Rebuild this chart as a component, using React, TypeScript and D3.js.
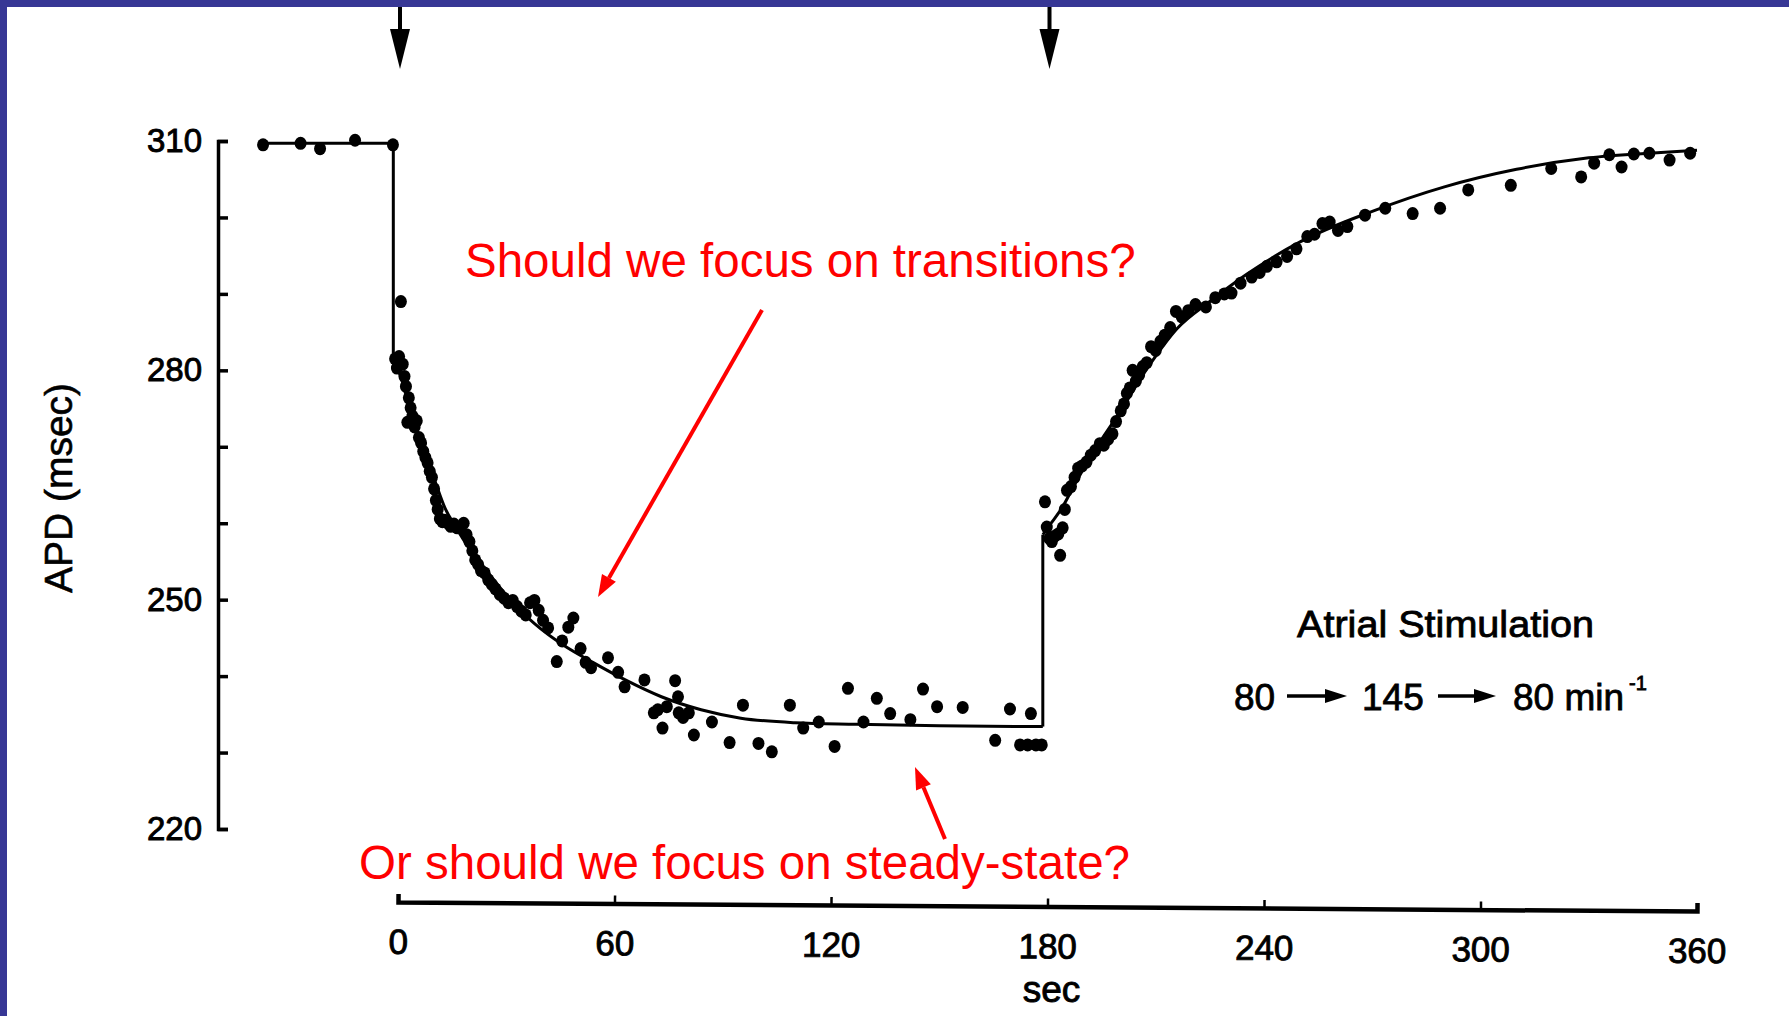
import * as d3 from 'd3';
import React, { useRef, useEffect } from 'react';

const W = 1789;
const H = 1016;

// stimulation switch times (sec), marked by arrows on top
const stimTimes = [0, 180];

const xTicks = [0, 60, 120, 180, 240, 300, 360];
const yTicks = [220, 230, 240, 250, 260, 270, 280, 290, 300, 310];
const yLabeled = [220, 250, 280, 310];

// APD at 80/min before the switch
const controlT = [-37.4, -27.0, -21.6, -11.9, -1.4];
const controlV = [309.5, 309.7, 309.0, 310.1, 309.5];

// APD at 145/min
const fastT = [
  -0.8, -0.3, 0.3, 0.8, 1.3, 1.8, 2.2, 2.6, 3.0, 3.5, 4.0, 4.6, 5.2, 5.8, 6.4, 7.0, 7.6, 8.2, 8.8, 9.4,
  10.0, 10.5, 11.0, 11.6, 12.3, 13.0, 13.8, 14.6, 15.5, 16.4, 17.3, 18.2, 19.0, 19.8, 20.6, 21.4, 22.2,
  23.0, 24.0, 25.0, 26.0, 27.0, 28.2, 29.4, 30.6, 31.8, 33.0, 34.2, 35.4, 36.6, 37.8, 39.0, 40.2, 41.6,
  44.0, 45.5, 47.2, 48.6, 50.6, 52.0, 53.5, 58.2, 61.0, 62.8, 68.3, 70.9, 72.0, 73.3, 74.5, 76.8, 77.6,
  77.8, 79.0, 80.6, 82.0, 87.0, 91.9, 95.6, 99.9, 103.6, 108.6, 112.3, 116.6, 121.0, 124.7, 129.0, 132.7,
  136.4, 142.0, 145.5, 149.4, 156.5, 165.5, 169.6, 172.4, 174.5, 175.4, 176.8, 178.4,
];
const fastV = [
  281.5, 280.3, 281.8, 289.0, 280.8, 279.2, 277.9, 273.2, 276.4, 275.1, 274.0, 272.6, 273.4, 271.2, 270.5,
  269.4, 268.6, 267.9, 266.8, 266.0, 264.5, 263.0, 261.8, 260.6, 260.2, 260.4, 260.0, 259.6, 259.9, 259.4,
  259.5, 260.0, 258.5, 257.6, 256.4, 255.2, 254.6, 253.8, 253.5, 252.6, 252.0, 251.4, 250.7, 250.2, 249.6,
  249.9, 249.1, 248.5, 248.0, 249.6, 249.9, 248.6, 247.3, 246.3, 241.9, 244.6, 246.4, 247.6, 243.6, 241.8,
  241.1, 242.4, 240.5, 238.6, 239.5, 235.2, 235.6, 233.2, 236.0, 239.4, 237.3, 235.2, 234.6, 235.2, 232.3,
  234.0, 231.3, 236.2, 231.2, 230.1, 236.2, 233.2, 234.0, 230.8, 238.4, 234.0, 237.1, 235.1, 234.3, 238.3,
  236.0, 235.9, 231.6, 235.7, 231.0, 231.0, 235.1, 231.0, 231.0,
];

// APD after returning to 80/min
const recoveryT = [
  179.3, 179.8, 180.5, 181.2, 182.0, 183.0, 183.5, 184.2, 184.8, 185.4, 186.5, 187.5, 188.5, 189.6, 190.8,
  192.0, 193.2, 194.5, 195.6, 196.8, 198.0, 199.0, 200.3, 201.2, 202.0, 202.8, 203.6, 204.5, 205.4, 206.4,
  207.5, 208.7, 210.0, 211.3, 212.5, 214.0, 215.6, 217.2, 219.0, 221.0, 223.9, 226.5, 229.0, 231.0, 233.5,
  236.6, 238.8, 240.8, 243.5, 246.4, 249.0, 252.0, 254.0, 256.2, 258.2, 260.5, 263.1, 268.0, 273.6, 281.2,
  288.8, 296.6, 308.4, 319.6, 327.9, 331.5, 335.7, 339.1, 342.5, 346.8, 352.4, 358.1,
];
const recoveryV = [
  262.8, 259.5, 258.0, 257.6, 258.3, 258.6, 255.8, 259.4, 261.8, 264.3, 264.8, 266.0, 267.2, 267.5, 268.0,
  268.9, 269.5, 270.4, 270.2, 271.0, 271.7, 273.3, 274.7, 275.6, 277.0, 277.7, 280.0, 278.6, 279.4, 280.5,
  281.0, 283.1, 282.6, 283.8, 284.6, 285.6, 287.7, 287.0, 287.8, 288.6, 288.3, 289.5, 290.0, 290.1, 291.4,
  292.2, 292.8, 293.6, 294.2, 294.9, 295.9, 297.5, 297.8, 299.2, 299.4, 298.3, 298.8, 300.3, 301.2, 300.5,
  301.2, 303.6, 304.2, 306.4, 305.3, 307.1, 308.2, 306.6, 308.3, 308.4, 307.5, 308.4,
];

// fitted curve
const fitStepT = [-37.4, -1.3, -1.3];
const fitStepV = [309.7, 309.7, 281.3];
const fitDecayT = [-1.3, 0.5, 3.5, 7, 10, 13, 16, 20, 25.7, 32, 38, 46, 54, 63, 73, 84, 95, 110, 127, 150, 178.7];
const fitDecayV = [281.3, 279.5, 274.7, 269.5, 265.8, 262, 259.5, 256.5, 253.1, 249.5, 246.8, 244, 241.8, 239.5, 237.3, 235.6, 234.5, 233.9, 233.7, 233.5, 233.4];
const fitRiseT = [178.7, 181, 184, 188, 193, 200, 208, 216, 225, 235, 250, 270, 290, 310, 330, 350, 360];
const fitRiseV = [258.5, 260, 262, 265.5, 269.5, 274.5, 280.5, 285.5, 289, 292.5, 296.8, 300.8, 304, 306.3, 307.8, 308.5, 308.8];

const FONT = '"Liberation Sans", Arial, Helvetica, sans-serif';

function App() {
  const ref = useRef<SVGSVGElement>(null);

  useEffect(() => {
    draw();
  }, []);

  const draw = () => {
    const svg = d3.select(ref.current);
    svg.selectAll('*').remove();

    const x = d3.scaleLinear().domain([0, 360]).range([398, 1697]);
    const y = d3.scaleLinear().domain([220, 310]).range([829, 141]);

    svg.append('rect').attr('width', W).attr('height', H).attr('fill', '#fff');

    // y axis
    const yAxis = svg.append('g')
      .attr('transform', 'translate(218,0)')
      .call(d3.axisLeft(y)
        .tickValues(yTicks)
        .tickSize(-10)
        .tickSizeOuter(-10)
        .tickPadding(16)
        .tickFormat((d: any) => (yLabeled.includes(+d) ? String(d) : '')));
    yAxis.select('.domain').attr('stroke', '#000').attr('stroke-width', 3.5);
    yAxis.selectAll('.tick line').attr('stroke', '#000').attr('stroke-width', 3.5);
    yAxis.selectAll('.tick text')
      .attr('font-family', FONT).attr('font-size', 33).attr('fill', '#000')
      .attr('stroke', '#000').attr('stroke-width', 0.9);

    // x axis (slightly tilted, as in the scanned figure)
    const xAxis = svg.append('g')
      .attr('transform', 'translate(0,902) rotate(0.4 398 0)')
      .call(d3.axisBottom(x)
        .tickValues(xTicks)
        .tickSize(-8)
        .tickSizeOuter(-8)
        .tickPadding(27));
    xAxis.select('.domain').attr('stroke', '#000').attr('stroke-width', 4.5);
    xAxis.selectAll('.tick line').attr('stroke', '#000').attr('stroke-width', 2.5);
    xAxis.selectAll('.tick text')
      .attr('font-family', FONT).attr('font-size', 35).attr('fill', '#000')
      .attr('stroke', '#000').attr('stroke-width', 0.9);

    svg.append('text')
      .attr('x', x(180) + 4).attr('y', 1002)
      .attr('text-anchor', 'middle')
      .attr('font-family', FONT).attr('font-size', 37)
      .attr('stroke', '#000').attr('stroke-width', 0.9)
      .text('sec');

    svg.append('text')
      .attr('transform', 'translate(72,488) rotate(-90)')
      .attr('text-anchor', 'middle')
      .attr('font-family', FONT).attr('font-size', 39)
      .attr('stroke', '#000').attr('stroke-width', 0.6)
      .text('APD (msec)');

    // fitted line
    const mkLine = (ts: number[], vs: number[], curve: any) =>
      d3.line<number>()
        .x((_, i) => x(ts[i]))
        .y((_, i) => y(vs[i]))
        .curve(curve)(ts);
    const fit = svg.append('g').attr('fill', 'none').attr('stroke', '#000').attr('stroke-width', 3);
    fit.append('path').attr('d', mkLine(fitStepT, fitStepV, d3.curveLinear));
    fit.append('path').attr('d', mkLine(fitDecayT, fitDecayV, d3.curveMonotoneX));
    fit.append('path').attr('d', mkLine(
      [fitDecayT[fitDecayT.length - 1], fitRiseT[0]],
      [fitDecayV[fitDecayV.length - 1], fitRiseV[0]], d3.curveLinear));
    fit.append('path').attr('d', mkLine(fitRiseT, fitRiseV, d3.curveMonotoneX));

    // measured points
    const dots = svg.append('g').attr('fill', '#000');
    const addDots = (ts: number[], vs: number[]) => {
      dots.selectAll(null)
        .data(ts)
        .enter()
        .append('ellipse')
        .attr('cx', (d) => x(d))
        .attr('cy', (_, i) => y(vs[i]))
        .attr('rx', 6)
        .attr('ry', 6.5);
    };
    addDots(controlT, controlV);
    addDots(fastT, fastV);
    addDots(recoveryT, recoveryV);

    // stimulation arrows on top
    const arr = svg.append('g').attr('fill', '#000');
    stimTimes.forEach((t) => {
      const cx = x(t) + 2;
      arr.append('rect').attr('x', cx - 2).attr('y', 6).attr('width', 4).attr('height', 26);
      arr.append('path').attr('d', `M${cx - 10},29 L${cx + 10},29 L${cx},69 Z`);
    });

    // legend
    const leg = svg.append('g')
      .attr('font-family', FONT).attr('fill', '#000')
      .attr('stroke', '#000').attr('stroke-width', 0.8);
    leg.append('text').attr('x', 1297).attr('y', 637).attr('font-size', 36)
      .attr('textLength', 297).attr('lengthAdjust', 'spacingAndGlyphs').text('Atrial Stimulation');
    leg.append('text').attr('x', 1234).attr('y', 710).attr('font-size', 37).text('80');
    leg.append('text').attr('x', 1362).attr('y', 710).attr('font-size', 37).text('145');
    leg.append('text').attr('x', 1513).attr('y', 710).attr('font-size', 37).text('80 min');
    leg.append('text').attr('x', 1629).attr('y', 690).attr('font-size', 20).text('-1');
    const blackArrow = (x1: number, x2: number, yy: number) => {
      svg.append('line').attr('x1', x1).attr('x2', x2 - 14).attr('y1', yy).attr('y2', yy)
        .attr('stroke', '#000').attr('stroke-width', 3.5);
      svg.append('path').attr('d', `M${x2 - 22},${yy - 7} L${x2},${yy} L${x2 - 22},${yy + 7} Z`).attr('fill', '#000');
    };
    blackArrow(1287, 1347, 696);
    blackArrow(1438, 1496, 696);

    // red annotations
    const red = '#ff0000';
    const redArrow = (x1: number, y1: number, x2: number, y2: number) => {
      const a = Math.atan2(y2 - y1, x2 - x1);
      const L = 22, w = 8;
      const bx = x2 - L * Math.cos(a), by = y2 - L * Math.sin(a);
      svg.append('line').attr('x1', x1).attr('y1', y1).attr('x2', bx).attr('y2', by)
        .attr('stroke', red).attr('stroke-width', 4);
      svg.append('path')
        .attr('d', `M${x2},${y2} L${bx + w * Math.sin(a)},${by - w * Math.cos(a)} L${bx - w * Math.sin(a)},${by + w * Math.cos(a)} Z`)
        .attr('fill', red);
    };
    redArrow(762, 310, 598, 597);
    redArrow(945, 839, 915, 767);

    svg.append('text').attr('x', 465).attr('y', 277)
      .attr('font-family', FONT).attr('font-size', 47.5).attr('fill', red)
      .text('Should we focus on transitions?');
    svg.append('text').attr('x', 359).attr('y', 879)
      .attr('font-family', FONT).attr('font-size', 47.5).attr('fill', red)
      .text('Or should we focus on steady-state?');

    // slide frame
    svg.append('rect').attr('x', 0).attr('y', 0).attr('width', W).attr('height', 7).attr('fill', '#373795');
    svg.append('rect').attr('x', 0).attr('y', 0).attr('width', 7).attr('height', H).attr('fill', '#373795');
  };

  return (
    <div style={{ position: 'absolute', left: 0, top: 0 }}>
      <svg ref={ref} width={W} height={H} style={{ display: 'block' }}></svg>
    </div>
  );
}

export default App;
